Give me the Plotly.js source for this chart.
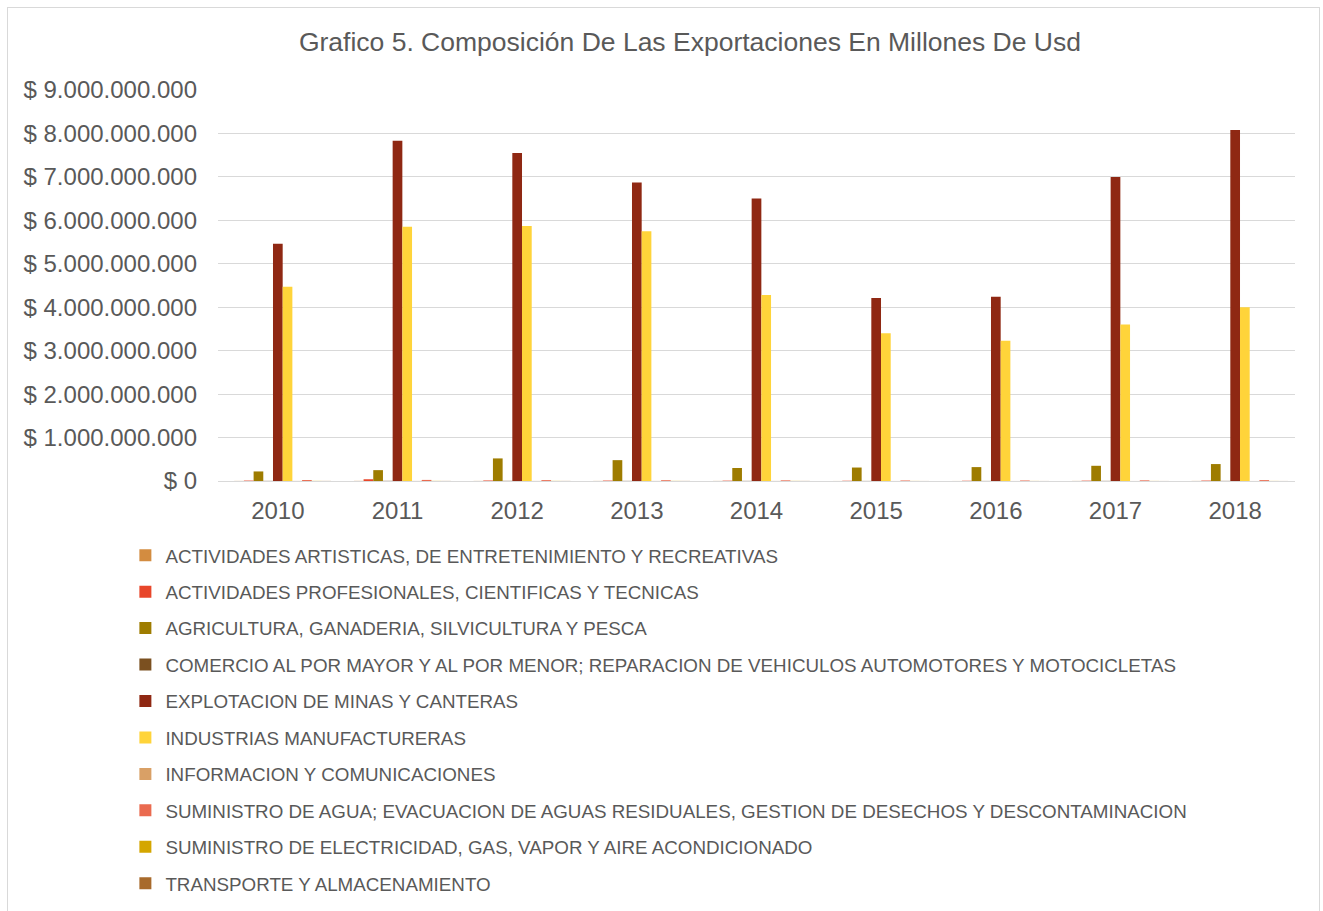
<!DOCTYPE html>
<html><head><meta charset="utf-8">
<script src="https://cdn.plot.ly/plotly-3.0.1.min.js"></script>
<style>
html,body{margin:0;padding:0;background:#fff;}
#wrap{position:relative;width:1323px;height:911px;}
#frame{position:absolute;left:7px;top:7px;width:1313px;height:910px;border:1px solid #d9d9d9;box-sizing:border-box;pointer-events:none;}
#chart{position:absolute;left:0;top:0;width:1323px;height:911px;}
</style></head>
<body><div id="wrap"><div id="chart"></div><div id="frame"></div></div>
<script>
const years = ['2010','2011','2012','2013','2014','2015','2016','2017','2018'];
const actArtisticas   = [2e6, 3e6, 2e6, 2e6, 2e6, 1e6, 1e6, 2e6, 2e6];
const actProfesionales= [10e6, 40e6, 12e6, 10e6, 8e6, 6e6, 6e6, 8e6, 10e6];
const agricultura     = [220e6, 250e6, 520e6, 480e6, 300e6, 310e6, 320e6, 350e6, 390e6];
const comercio        = [3e6, 4e6, 4e6, 3e6, 3e6, 2e6, 2e6, 3e6, 3e6];
const explotacion     = [5460e6, 7830e6, 7550e6, 6870e6, 6500e6, 4210e6, 4240e6, 7000e6, 8080e6];
const industrias      = [4470e6, 5850e6, 5870e6, 5750e6, 4280e6, 3400e6, 3230e6, 3600e6, 4000e6];
const informacion     = [2e6, 2e6, 2e6, 2e6, 2e6, 1e6, 1e6, 1e6, 1e6];
const sumAgua         = [22e6, 25e6, 20e6, 18e6, 15e6, 12e6, 12e6, 15e6, 20e6];
const sumElectricidad = [3e6, 3e6, 3e6, 3e6, 3e6, 2e6, 2e6, 2e6, 2e6];
const transporte      = [2e6, 2e6, 2e6, 2e6, 2e6, 1e6, 1e6, 1e6, 1e6];

const seriesNames = [
 'ACTIVIDADES ARTISTICAS, DE ENTRETENIMIENTO Y RECREATIVAS',
 'ACTIVIDADES PROFESIONALES, CIENTIFICAS Y TECNICAS',
 'AGRICULTURA, GANADERIA, SILVICULTURA Y PESCA',
 'COMERCIO AL POR MAYOR Y AL POR MENOR; REPARACION DE VEHICULOS AUTOMOTORES Y MOTOCICLETAS',
 'EXPLOTACION DE MINAS Y CANTERAS',
 'INDUSTRIAS MANUFACTURERAS',
 'INFORMACION Y COMUNICACIONES',
 'SUMINISTRO DE AGUA; EVACUACION DE AGUAS RESIDUALES, GESTION DE DESECHOS Y DESCONTAMINACION',
 'SUMINISTRO DE ELECTRICIDAD, GAS, VAPOR Y AIRE ACONDICIONADO',
 'TRANSPORTE Y ALMACENAMIENTO'
];
const seriesValues = [actArtisticas, actProfesionales, agricultura, comercio, explotacion, industrias, informacion, sumAgua, sumElectricidad, transporte];
const colors = ['#D38C40','#E8462A','#9E7C00','#7B5020','#8F2813','#FFD43A','#D9A066','#EA6A4F','#D4A600','#A86A2C'];

const BW = 0.081;
const traces = seriesNames.map((n,i)=>({
  type:'bar', name:n, x:years, y:seriesValues[i],
  width:BW, offset:(i-4.5)*BW,
  marker:{color:colors[i]}, legendgroup:'g'+i
}));

const layout = {
  width:1323, height:911,
  paper_bgcolor:'#fff', plot_bgcolor:'#fff',
  font:{family:'Liberation Sans, Arial, sans-serif', color:'#595959'},
  separators:',.',
  title:{text:'Grafico 5. Composición De Las Exportaciones En Millones De Usd', font:{size:26.5, color:'#595959'}, x:0.5215, xanchor:'center', y:0.954, yanchor:'middle'},
  margin:{l:218, r:28, t:90, b:430, autoexpand:false},
  barmode:'overlay',
  xaxis:{type:'category', tickfont:{size:24, color:'#595959'}, showline:true, linecolor:'#d9d9d9', linewidth:1, ticks:'', showgrid:false, ticklabelstandoff:8},
  yaxis:{range:[0,9e9], dtick:1e9, tickprefix:'$ ', tickformat:',d', tickfont:{size:24, color:'#595959'}, gridcolor:'#d9d9d9', gridwidth:1, zeroline:true, zerolinecolor:'#d9d9d9', ticks:'', ticklabelstandoff:20},
  showlegend:true,
  legend:{orientation:'v', x:-0.086, xanchor:'left', y:-0.142, yanchor:'top', font:{size:18.8, color:'#595959'}, tracegroupgap:9, itemwidth:30, bgcolor:'rgba(0,0,0,0)'}
};
Plotly.newPlot('chart', traces, layout, {displayModeBar:false, staticPlot:true});
</script></body></html>
